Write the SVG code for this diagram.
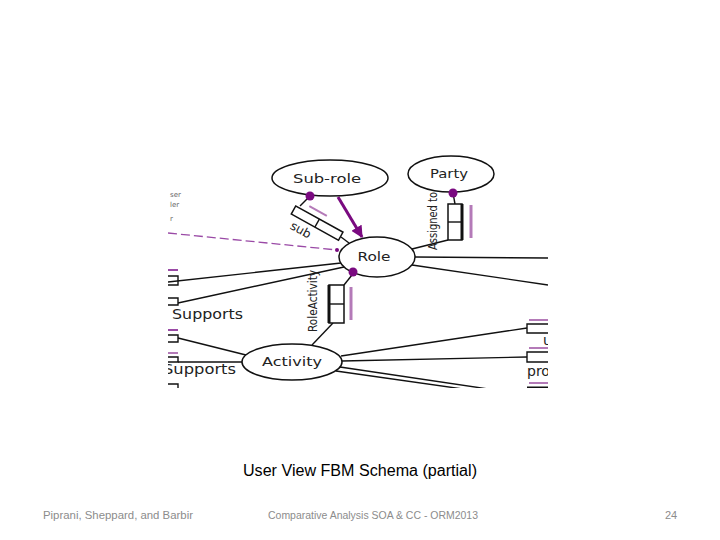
<svg xmlns="http://www.w3.org/2000/svg" width="720" height="540" viewBox="0 0 720 540">
<defs>
<style>
.ln{stroke:#111;stroke-width:1.4;fill:none}
.el{fill:#fff;stroke:#111;stroke-width:1.5}
.bx{fill:#fff;stroke:#111;stroke-width:1.5}
.pl{stroke:#b47ab8;stroke-width:3;fill:none}
.lbl{font-family:"DejaVu Sans",sans-serif;font-size:13px;fill:#222}
.rl{font-family:"DejaVu Sans Condensed","DejaVu Sans",sans-serif;font-size:12px;fill:#222}
.cut{font-family:"DejaVu Sans",sans-serif;font-size:14px;fill:#222}
.tiny{font-family:"DejaVu Sans",sans-serif;font-size:7px;fill:#666}
.ft{font-family:"Liberation Sans",sans-serif;font-size:11px;fill:#8c8c8c}
</style>
<clipPath id="clip"><rect x="168" y="150" width="380" height="238"/></clipPath>
<marker id="ah" viewBox="0 0 10 10" refX="9" refY="5" markerWidth="4" markerHeight="4" orient="auto"><path d="M0,0 L10,5 L0,10 z" fill="#7a0a80"/></marker>
</defs>
<rect width="720" height="540" fill="#fff"/>
<g clip-path="url(#clip)">
<g id="connectors">
<line class="ln" x1="310" y1="196" x2="300" y2="206"/>
<line class="ln" x1="341" y1="237" x2="349" y2="243"/>
<line x1="338" y1="197" x2="362" y2="237" stroke="#7a0a80" stroke-width="3" marker-end="url(#ah)"/>
<line x1="168" y1="233" x2="337" y2="250" stroke="#9a4aa6" stroke-width="1.3" stroke-dasharray="9,4"/>
<circle cx="337" cy="250" r="2" fill="#7a0a80"/>
<line class="ln" x1="453" y1="193" x2="455" y2="204"/>
<line class="ln" x1="448" y1="240" x2="412" y2="249"/>
<line class="ln" x1="168" y1="282" x2="341" y2="263"/>
<line class="ln" x1="178" y1="303" x2="344" y2="267"/>
<line class="ln" x1="415" y1="257" x2="548" y2="258"/>
<line class="ln" x1="412" y1="265" x2="548" y2="285"/>
<line class="ln" x1="352" y1="275" x2="344" y2="285"/>
<line class="ln" x1="333" y1="323" x2="312" y2="345"/>
<line class="ln" x1="178" y1="338" x2="246" y2="355"/>
<line class="ln" x1="178" y1="362" x2="242" y2="362"/>
<line class="ln" x1="341" y1="356" x2="527" y2="328"/>
<line class="ln" x1="342" y1="361" x2="527" y2="357"/>
<line class="ln" x1="340" y1="367" x2="495" y2="390" stroke-width="1.8"/>
<line class="ln" x1="336" y1="371" x2="470" y2="390" stroke-width="1.6"/>
</g>
<g id="subrole">
<ellipse class="el" cx="330" cy="178" rx="58" ry="18"/>
<text class="lbl" x="327" y="183" text-anchor="middle" textLength="68" lengthAdjust="spacingAndGlyphs">Sub-role</text>
<circle cx="310" cy="196" r="4.5" fill="#7a0a80"/>
</g>
<g id="party">
<ellipse class="el" cx="451" cy="174" rx="43" ry="18"/>
<text class="lbl" x="449" y="178" text-anchor="middle" textLength="38" lengthAdjust="spacingAndGlyphs">Party</text>
<circle cx="453" cy="193" r="4.5" fill="#7a0a80"/>
</g>
<g id="role">
<ellipse class="el" cx="377" cy="257" rx="38" ry="20"/>
<text class="lbl" x="374" y="261" text-anchor="middle" textLength="33" lengthAdjust="spacingAndGlyphs">Role</text>
<circle cx="353" cy="272" r="4.5" fill="#7a0a80"/>
</g>
<g id="activity">
<ellipse class="el" cx="292" cy="362" rx="50" ry="18"/>
<text class="lbl" x="292" y="366" text-anchor="middle" textLength="60" lengthAdjust="spacingAndGlyphs">Activity</text>
</g>
<g id="sub-box" transform="translate(293.5,210) rotate(29)">
<rect class="bx" x="0" y="-4.6" width="54" height="9.2"/>
<line class="ln" x1="27" y1="-4.6" x2="27" y2="4.6"/>
<line x1="12" y1="-11" x2="32" y2="-11" stroke="#b47ab8" stroke-width="2"/>
<text class="rl" x="5" y="18" textLength="22" lengthAdjust="spacingAndGlyphs">sub</text>
</g>
<g id="assigned-box">
<rect class="bx" x="448" y="204" width="14" height="36"/>
<line class="ln" x1="448" y1="222" x2="462" y2="222"/>
<line x1="462" y1="204" x2="462" y2="240" stroke="#111" stroke-width="3"/>
<line class="pl" x1="471" y1="205" x2="471" y2="238"/>
<text class="rl" transform="translate(437,250) rotate(-90)" textLength="58" lengthAdjust="spacingAndGlyphs">Assigned to</text>
</g>
<g id="roleactivity-box">
<rect class="bx" x="329" y="285" width="15" height="38"/>
<line class="ln" x1="329" y1="304" x2="344" y2="304"/>
<line x1="329" y1="285" x2="329" y2="323" stroke="#111" stroke-width="3"/>
<line class="pl" x1="351" y1="287" x2="351" y2="320"/>
<text class="rl" transform="translate(317,332) rotate(-90)" textLength="62" lengthAdjust="spacingAndGlyphs">RoleActivity</text>
</g>
<g id="left-fragments">
<text class="tiny" x="170" y="197">ser</text>
<text class="tiny" x="170" y="207">ler</text>
<text class="tiny" x="170" y="221">r</text>
<line x1="168" y1="270" x2="178" y2="270" stroke="#9a4aa6" stroke-width="2"/>
<path class="ln" d="M160,276 H178 V285 H160" stroke-width="1.8"/>
<path class="ln" d="M160,298 H178 V305 H160" stroke-width="1.8"/>
<text class="cut" x="172" y="319" textLength="71" lengthAdjust="spacingAndGlyphs">Supports</text>
<line x1="168" y1="330" x2="178" y2="330" stroke="#9a4aa6" stroke-width="2"/>
<path class="ln" d="M160,335 H178 V342 H160" stroke-width="1.8"/>
<line x1="168" y1="353" x2="178" y2="353" stroke="#b47ab8" stroke-width="2"/>
<path class="ln" d="M160,357 H178 V362 H160" stroke-width="2.5"/>
<text class="cut" x="163" y="374" textLength="73" lengthAdjust="spacingAndGlyphs">Supports</text>
<path class="ln" d="M160,384 H178 V392" stroke-width="2"/>
</g>
<g id="right-fragments">
<line x1="529" y1="320" x2="550" y2="320" stroke="#b47ab8" stroke-width="2"/>
<path class="ln" d="M552,324 H527 V333 H552" stroke-width="1.6"/>
<text class="cut" x="543" y="345">u</text>
<line x1="529" y1="348" x2="550" y2="348" stroke="#b47ab8" stroke-width="2"/>
<path class="ln" d="M552,352 H527 V362 H552" stroke-width="2.5"/>
<text class="cut" x="527" y="376">pro</text>
<line x1="529" y1="383" x2="550" y2="383" stroke="#b47ab8" stroke-width="2"/>
<line x1="527" y1="388" x2="550" y2="388" stroke="#111" stroke-width="3"/>
</g>
</g>
<text x="360" y="476" text-anchor="middle" font-family="Liberation Sans, sans-serif" font-size="16" fill="#000" textLength="234" lengthAdjust="spacingAndGlyphs">User View FBM Schema (partial)</text>
<text class="ft" x="43" y="519" textLength="150" lengthAdjust="spacingAndGlyphs">Piprani,  Sheppard, and  Barbir</text>
<text class="ft" x="268" y="519" textLength="210" lengthAdjust="spacingAndGlyphs">Comparative Analysis SOA &amp; CC - ORM2013</text>
<text class="ft" x="665" y="519">24</text>
</svg>
